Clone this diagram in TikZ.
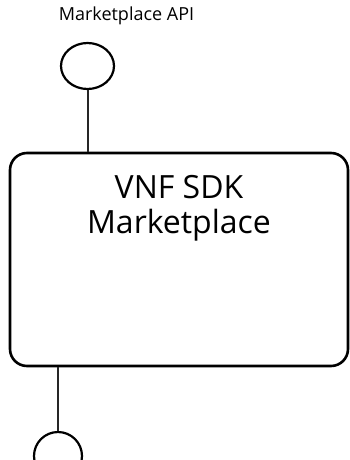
\documentclass[tikz,border=0pt]{standalone}
\usepackage{fontspec}
\setmainfont{Open Sans}
\usetikzlibrary{positioning,shapes.geometric}

\begin{document}
\begin{tikzpicture}[x=1pt, y=-1pt, node distance=0.5cm and 3.5cm,
    box/.style={rectangle, rounded corners=17pt, draw, line width=2.6pt, minimum width=338pt, minimum height=213pt, inner sep=0pt},
    port/.style={ellipse, draw, line width=2.2pt, inner sep=0pt},
    wire/.style={line width=2pt, draw=black!85}]
	\useasboundingbox (0,0) rectangle (349,460);
	\node (market) [box] at (179,259.5) {};
	\node (title) [below=20pt of market.north, align=center, font=\fontsize{32}{35}\selectfont] {VNF SDK\\Marketplace};
	\node (api) [port, minimum width=53pt, minimum height=46pt] at (87.5,66) {};
	\node (apilabel) [font=\fontsize{18}{20}\selectfont] at (126.5,16) {Marketplace API};
	\node (use) [port, minimum width=48pt, minimum height=48pt] at (58,456) {};
    \path [wire] (api.south) -- (api.south |- market.north)
       (use.north) -- (use.north |- market.south);
   \end{tikzpicture}
\end{document}
